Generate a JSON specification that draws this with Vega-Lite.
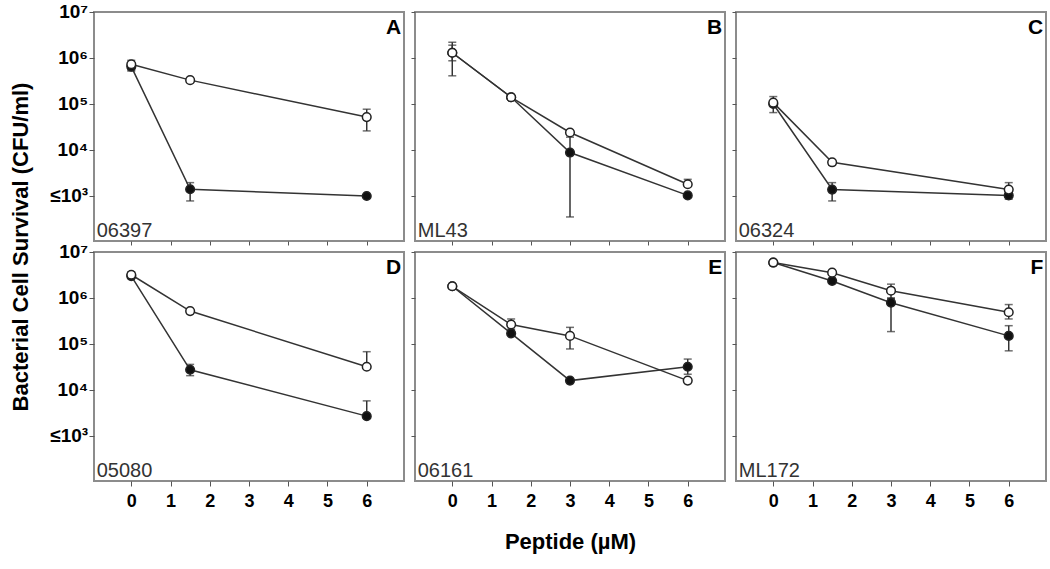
{
"$schema":"https://vega.github.io/schema/vega-lite/v6.json",
"padding":{"left":8,"top":2,"right":4,"bottom":4},
"bounds":"flush",
"datasets":{
"pts":[
{"panel":"A","series":"filled","conc":0,"cfu":650000,"lo":550000,"hi":760000},
{"panel":"A","series":"filled","conc":1.5,"cfu":1400,"lo":780,"hi":1950},
{"panel":"A","series":"filled","conc":6,"cfu":1000},
{"panel":"A","series":"open","conc":0,"cfu":730000,"lo":520000,"hi":890000},
{"panel":"A","series":"open","conc":1.5,"cfu":330000},
{"panel":"A","series":"open","conc":6,"cfu":52000,"lo":26000,"hi":77000},
{"panel":"B","series":"filled","conc":0,"cfu":1300000,"lo":870000,"hi":1900000},
{"panel":"B","series":"filled","conc":1.5,"cfu":140000},
{"panel":"B","series":"filled","conc":3,"cfu":8800,"lo":350,"hi":19000},
{"panel":"B","series":"filled","conc":6,"cfu":1030},
{"panel":"B","series":"open","conc":0,"cfu":1300000,"lo":410000,"hi":2200000},
{"panel":"B","series":"open","conc":1.5,"cfu":140000},
{"panel":"B","series":"open","conc":3,"cfu":24000},
{"panel":"B","series":"open","conc":6,"cfu":1800,"lo":1800,"hi":2300},
{"panel":"C","series":"filled","conc":0,"cfu":100000},
{"panel":"C","series":"filled","conc":1.5,"cfu":1380,"lo":780,"hi":1950},
{"panel":"C","series":"filled","conc":6,"cfu":1030,"lo":850,"hi":1170},
{"panel":"C","series":"open","conc":0,"cfu":107000,"lo":65000,"hi":145000},
{"panel":"C","series":"open","conc":1.5,"cfu":5400,"lo":4700,"hi":6100},
{"panel":"C","series":"open","conc":6,"cfu":1380,"lo":1100,"hi":1950},
{"panel":"D","series":"filled","conc":0,"cfu":3000000},
{"panel":"D","series":"filled","conc":1.5,"cfu":27500,"lo":20500,"hi":36000},
{"panel":"D","series":"filled","conc":6,"cfu":2700,"lo":2700,"hi":5800},
{"panel":"D","series":"open","conc":0,"cfu":3200000,"lo":2800000,"hi":3700000},
{"panel":"D","series":"open","conc":1.5,"cfu":520000},
{"panel":"D","series":"open","conc":6,"cfu":32000,"lo":32000,"hi":68000},
{"panel":"E","series":"filled","conc":0,"cfu":1800000},
{"panel":"E","series":"filled","conc":1.5,"cfu":170000},
{"panel":"E","series":"filled","conc":3,"cfu":16000},
{"panel":"E","series":"filled","conc":6,"cfu":32000,"lo":22000,"hi":47000},
{"panel":"E","series":"open","conc":0,"cfu":1800000},
{"panel":"E","series":"open","conc":1.5,"cfu":265000,"lo":210000,"hi":350000},
{"panel":"E","series":"open","conc":3,"cfu":150000,"lo":78000,"hi":230000},
{"panel":"E","series":"open","conc":6,"cfu":16000},
{"panel":"F","series":"filled","conc":0,"cfu":5900000},
{"panel":"F","series":"filled","conc":1.5,"cfu":2350000},
{"panel":"F","series":"filled","conc":3,"cfu":790000,"lo":186000,"hi":980000},
{"panel":"F","series":"filled","conc":6,"cfu":150000,"lo":71000,"hi":250000},
{"panel":"F","series":"open","conc":0,"cfu":5900000},
{"panel":"F","series":"open","conc":1.5,"cfu":3550000},
{"panel":"F","series":"open","conc":3,"cfu":1440000,"lo":1000000,"hi":2000000},
{"panel":"F","series":"open","conc":6,"cfu":490000,"lo":350000,"hi":720000}
],
"labels":[
{"panel":"A","letter":"A","strain":"06397"},
{"panel":"B","letter":"B","strain":"ML43"},
{"panel":"C","letter":"C","strain":"06324"},
{"panel":"D","letter":"D","strain":"05080"},
{"panel":"E","letter":"E","strain":"06161"},
{"panel":"F","letter":"F","strain":"ML172"}
],
"ylab":[
{"v":1000,"t":"≤10³"},
{"v":10000,"t":"10⁴"},
{"v":100000,"t":"10⁵"},
{"v":1000000,"t":"10⁶"},
{"v":10000000,"t":"10⁷"}
]
},
"columns":3,
"spacing":{"row":11,"column":11},
"concat":[
{"width":310,"height":229,
"layer":[
{"data":{"name":"pts"},"transform":[{"filter":"datum.panel==='A'"}],"mark":{"type":"line","color":"#333333","strokeWidth":1.5},"encoding":{"x":{"field":"conc","type":"quantitative","scale":{"domain":[-0.95,6.95],"nice":false,"zero":false},"axis":{"values":[0,1,2,3,4,5,6],"labels":false,"title":null,"tickSize":4}},"y":{"field":"cfu","type":"quantitative","scale":{"type":"log","domain":[105,10000000],"nice":false},"axis":{"values":[1000,10000,100000,1000000,10000000],"labels":false,"title":"Bacterial Cell Survival (CFU/ml)","titleFontSize":22,"titleFontWeight":"bold","titleY":234.5,"titlePadding":56}},"detail":{"field":"series"}}},
{"data":{"name":"pts"},"transform":[{"filter":"datum.panel==='A' && isValid(datum.hi)"}],"mark":{"type":"errorbar","ticks":{"size":8},"color":"#333333","thickness":1.5},"encoding":{"x":{"field":"conc","type":"quantitative"},"y":{"field":"lo","type":"quantitative","title":"Bacterial Cell Survival (CFU/ml)"},"y2":{"field":"hi"}}},
{"data":{"name":"pts"},"transform":[{"filter":"datum.panel==='A'"}],"mark":{"type":"point","shape":"circle","filled":true,"size":75,"stroke":"#222222","strokeWidth":1.5,"opacity":1},"encoding":{"x":{"field":"conc","type":"quantitative"},"y":{"field":"cfu","type":"quantitative","title":"Bacterial Cell Survival (CFU/ml)"},"fill":{"field":"series","type":"nominal","scale":{"domain":["filled","open"],"range":["#111111","#ffffff"]},"legend":null}}},
{"data":{"name":"ylab"},"mark":{"type":"text","align":"right","baseline":"middle","fontSize":19,"fontWeight":"bold","color":"#000000"},"encoding":{"x":{"datum":-1.1},"y":{"field":"v","type":"quantitative","title":"Bacterial Cell Survival (CFU/ml)"},"text":{"field":"t"}}},
{"data":{"name":"labels"},"transform":[{"filter":"datum.panel==='A'"}],"mark":{"type":"text","align":"right","baseline":"alphabetic","fontSize":21,"fontWeight":"bold","color":"#000000"},"encoding":{"x":{"datum":6.88},"y":{"datum":3300000},"text":{"field":"letter"}}},
{"data":{"name":"labels"},"transform":[{"filter":"datum.panel==='A'"}],"mark":{"type":"text","align":"left","baseline":"alphabetic","fontSize":20,"color":"#333333"},"encoding":{"x":{"datum":-0.88},"y":{"datum":128},"text":{"field":"strain"}}}
]},
{"width":310,"height":229,
"layer":[
{"data":{"name":"pts"},"transform":[{"filter":"datum.panel==='B'"}],"mark":{"type":"line","color":"#333333","strokeWidth":1.5},"encoding":{"x":{"field":"conc","type":"quantitative","scale":{"domain":[-0.95,6.95],"nice":false,"zero":false},"axis":{"values":[0,1,2,3,4,5,6],"labels":false,"title":null,"tickSize":4}},"y":{"field":"cfu","type":"quantitative","scale":{"type":"log","domain":[105,10000000],"nice":false},"axis":{"values":[1000,10000,100000,1000000,10000000],"labels":false,"title":null,"tickSize":4}},"detail":{"field":"series"}}},
{"data":{"name":"pts"},"transform":[{"filter":"datum.panel==='B' && isValid(datum.hi)"}],"mark":{"type":"errorbar","ticks":{"size":8},"color":"#333333","thickness":1.5},"encoding":{"x":{"field":"conc","type":"quantitative"},"y":{"field":"lo","type":"quantitative"},"y2":{"field":"hi"}}},
{"data":{"name":"pts"},"transform":[{"filter":"datum.panel==='B'"}],"mark":{"type":"point","shape":"circle","filled":true,"size":75,"stroke":"#222222","strokeWidth":1.5,"opacity":1},"encoding":{"x":{"field":"conc","type":"quantitative"},"y":{"field":"cfu","type":"quantitative"},"fill":{"field":"series","type":"nominal","scale":{"domain":["filled","open"],"range":["#111111","#ffffff"]},"legend":null}}},
{"data":{"name":"labels"},"transform":[{"filter":"datum.panel==='B'"}],"mark":{"type":"text","align":"right","baseline":"alphabetic","fontSize":21,"fontWeight":"bold","color":"#000000"},"encoding":{"x":{"datum":6.88},"y":{"datum":3300000},"text":{"field":"letter"}}},
{"data":{"name":"labels"},"transform":[{"filter":"datum.panel==='B'"}],"mark":{"type":"text","align":"left","baseline":"alphabetic","fontSize":20,"color":"#333333"},"encoding":{"x":{"datum":-0.88},"y":{"datum":128},"text":{"field":"strain"}}}
]},
{"width":310,"height":229,
"layer":[
{"data":{"name":"pts"},"transform":[{"filter":"datum.panel==='C'"}],"mark":{"type":"line","color":"#333333","strokeWidth":1.5},"encoding":{"x":{"field":"conc","type":"quantitative","scale":{"domain":[-0.95,6.95],"nice":false,"zero":false},"axis":{"values":[0,1,2,3,4,5,6],"labels":false,"title":null,"tickSize":4}},"y":{"field":"cfu","type":"quantitative","scale":{"type":"log","domain":[105,10000000],"nice":false},"axis":{"values":[1000,10000,100000,1000000,10000000],"labels":false,"title":null,"tickSize":4}},"detail":{"field":"series"}}},
{"data":{"name":"pts"},"transform":[{"filter":"datum.panel==='C' && isValid(datum.hi)"}],"mark":{"type":"errorbar","ticks":{"size":8},"color":"#333333","thickness":1.5},"encoding":{"x":{"field":"conc","type":"quantitative"},"y":{"field":"lo","type":"quantitative"},"y2":{"field":"hi"}}},
{"data":{"name":"pts"},"transform":[{"filter":"datum.panel==='C'"}],"mark":{"type":"point","shape":"circle","filled":true,"size":75,"stroke":"#222222","strokeWidth":1.5,"opacity":1},"encoding":{"x":{"field":"conc","type":"quantitative"},"y":{"field":"cfu","type":"quantitative"},"fill":{"field":"series","type":"nominal","scale":{"domain":["filled","open"],"range":["#111111","#ffffff"]},"legend":null}}},
{"data":{"name":"labels"},"transform":[{"filter":"datum.panel==='C'"}],"mark":{"type":"text","align":"right","baseline":"alphabetic","fontSize":21,"fontWeight":"bold","color":"#000000"},"encoding":{"x":{"datum":6.88},"y":{"datum":3300000},"text":{"field":"letter"}}},
{"data":{"name":"labels"},"transform":[{"filter":"datum.panel==='C'"}],"mark":{"type":"text","align":"left","baseline":"alphabetic","fontSize":20,"color":"#333333"},"encoding":{"x":{"datum":-0.88},"y":{"datum":128},"text":{"field":"strain"}}}
]},
{"width":310,"height":229,
"layer":[
{"data":{"name":"pts"},"transform":[{"filter":"datum.panel==='D'"}],"mark":{"type":"line","color":"#333333","strokeWidth":1.5},"encoding":{"x":{"field":"conc","type":"quantitative","scale":{"domain":[-0.95,6.95],"nice":false,"zero":false},"axis":{"values":[0,1,2,3,4,5,6],"labelFontSize":18,"labelFontWeight":"bold","labelPadding":6,"title":null}},"y":{"field":"cfu","type":"quantitative","scale":{"type":"log","domain":[105,10000000],"nice":false},"axis":{"values":[1000,10000,100000,1000000,10000000],"labels":false,"title":null}},"detail":{"field":"series"}}},
{"data":{"name":"pts"},"transform":[{"filter":"datum.panel==='D' && isValid(datum.hi)"}],"mark":{"type":"errorbar","ticks":{"size":8},"color":"#333333","thickness":1.5},"encoding":{"x":{"field":"conc","type":"quantitative"},"y":{"field":"lo","type":"quantitative"},"y2":{"field":"hi"}}},
{"data":{"name":"pts"},"transform":[{"filter":"datum.panel==='D'"}],"mark":{"type":"point","shape":"circle","filled":true,"size":75,"stroke":"#222222","strokeWidth":1.5,"opacity":1},"encoding":{"x":{"field":"conc","type":"quantitative"},"y":{"field":"cfu","type":"quantitative"},"fill":{"field":"series","type":"nominal","scale":{"domain":["filled","open"],"range":["#111111","#ffffff"]},"legend":null}}},
{"data":{"name":"ylab"},"mark":{"type":"text","align":"right","baseline":"middle","fontSize":19,"fontWeight":"bold","color":"#000000"},"encoding":{"x":{"datum":-1.1},"y":{"field":"v","type":"quantitative"},"text":{"field":"t"}}},
{"data":{"name":"labels"},"transform":[{"filter":"datum.panel==='D'"}],"mark":{"type":"text","align":"right","baseline":"alphabetic","fontSize":21,"fontWeight":"bold","color":"#000000"},"encoding":{"x":{"datum":6.88},"y":{"datum":3300000},"text":{"field":"letter"}}},
{"data":{"name":"labels"},"transform":[{"filter":"datum.panel==='D'"}],"mark":{"type":"text","align":"left","baseline":"alphabetic","fontSize":20,"color":"#333333"},"encoding":{"x":{"datum":-0.88},"y":{"datum":128},"text":{"field":"strain"}}}
]},
{"width":310,"height":229,
"layer":[
{"data":{"name":"pts"},"transform":[{"filter":"datum.panel==='E'"}],"mark":{"type":"line","color":"#333333","strokeWidth":1.5},"encoding":{"x":{"field":"conc","type":"quantitative","scale":{"domain":[-0.95,6.95],"nice":false,"zero":false},"axis":{"values":[0,1,2,3,4,5,6],"labelFontSize":18,"labelFontWeight":"bold","labelPadding":6,"title":"Peptide (µM)","titleFontSize":22,"titleFontWeight":"bold","titlePadding":21}},"y":{"field":"cfu","type":"quantitative","scale":{"type":"log","domain":[105,10000000],"nice":false},"axis":{"values":[1000,10000,100000,1000000,10000000],"labels":false,"title":null,"tickSize":4}},"detail":{"field":"series"}}},
{"data":{"name":"pts"},"transform":[{"filter":"datum.panel==='E' && isValid(datum.hi)"}],"mark":{"type":"errorbar","ticks":{"size":8},"color":"#333333","thickness":1.5},"encoding":{"x":{"field":"conc","type":"quantitative","title":"Peptide (µM)"},"y":{"field":"lo","type":"quantitative"},"y2":{"field":"hi"}}},
{"data":{"name":"pts"},"transform":[{"filter":"datum.panel==='E'"}],"mark":{"type":"point","shape":"circle","filled":true,"size":75,"stroke":"#222222","strokeWidth":1.5,"opacity":1},"encoding":{"x":{"field":"conc","type":"quantitative","title":"Peptide (µM)"},"y":{"field":"cfu","type":"quantitative"},"fill":{"field":"series","type":"nominal","scale":{"domain":["filled","open"],"range":["#111111","#ffffff"]},"legend":null}}},
{"data":{"name":"labels"},"transform":[{"filter":"datum.panel==='E'"}],"mark":{"type":"text","align":"right","baseline":"alphabetic","fontSize":21,"fontWeight":"bold","color":"#000000"},"encoding":{"x":{"datum":6.88},"y":{"datum":3300000},"text":{"field":"letter"}}},
{"data":{"name":"labels"},"transform":[{"filter":"datum.panel==='E'"}],"mark":{"type":"text","align":"left","baseline":"alphabetic","fontSize":20,"color":"#333333"},"encoding":{"x":{"datum":-0.88},"y":{"datum":128},"text":{"field":"strain"}}}
]},
{"width":310,"height":229,
"layer":[
{"data":{"name":"pts"},"transform":[{"filter":"datum.panel==='F'"}],"mark":{"type":"line","color":"#333333","strokeWidth":1.5},"encoding":{"x":{"field":"conc","type":"quantitative","scale":{"domain":[-0.95,6.95],"nice":false,"zero":false},"axis":{"values":[0,1,2,3,4,5,6],"labelFontSize":18,"labelFontWeight":"bold","labelPadding":6,"title":null}},"y":{"field":"cfu","type":"quantitative","scale":{"type":"log","domain":[105,10000000],"nice":false},"axis":{"values":[1000,10000,100000,1000000,10000000],"labels":false,"title":null,"tickSize":4}},"detail":{"field":"series"}}},
{"data":{"name":"pts"},"transform":[{"filter":"datum.panel==='F' && isValid(datum.hi)"}],"mark":{"type":"errorbar","ticks":{"size":8},"color":"#333333","thickness":1.5},"encoding":{"x":{"field":"conc","type":"quantitative"},"y":{"field":"lo","type":"quantitative"},"y2":{"field":"hi"}}},
{"data":{"name":"pts"},"transform":[{"filter":"datum.panel==='F'"}],"mark":{"type":"point","shape":"circle","filled":true,"size":75,"stroke":"#222222","strokeWidth":1.5,"opacity":1},"encoding":{"x":{"field":"conc","type":"quantitative"},"y":{"field":"cfu","type":"quantitative"},"fill":{"field":"series","type":"nominal","scale":{"domain":["filled","open"],"range":["#111111","#ffffff"]},"legend":null}}},
{"data":{"name":"labels"},"transform":[{"filter":"datum.panel==='F'"}],"mark":{"type":"text","align":"right","baseline":"alphabetic","fontSize":21,"fontWeight":"bold","color":"#000000"},"encoding":{"x":{"datum":6.88},"y":{"datum":3300000},"text":{"field":"letter"}}},
{"data":{"name":"labels"},"transform":[{"filter":"datum.panel==='F'"}],"mark":{"type":"text","align":"left","baseline":"alphabetic","fontSize":20,"color":"#333333"},"encoding":{"x":{"datum":-0.88},"y":{"datum":128},"text":{"field":"strain"}}}
]}
],
"config":{
"font":"Liberation Sans",
"view":{"stroke":"#8c8c8c","strokeWidth":2},
"axis":{"grid":false,"domain":false,"tickColor":"#555555","tickSize":5,"labelColor":"#000000","titleColor":"#000000"}
}
}
